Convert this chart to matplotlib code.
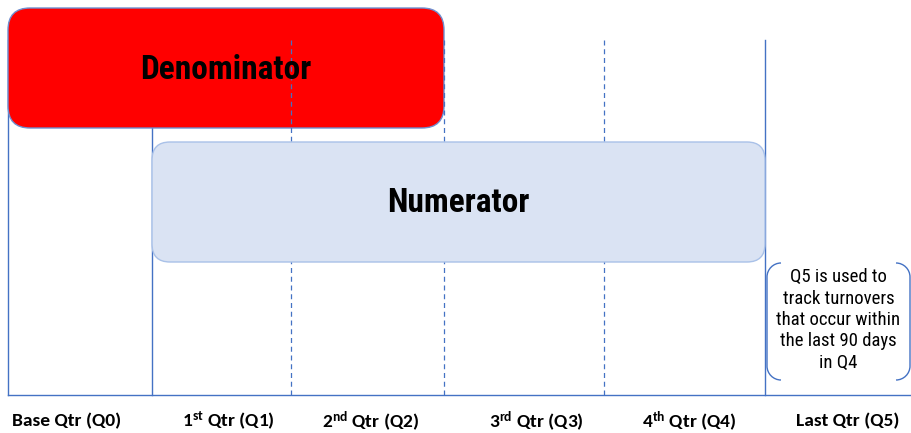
import matplotlib
matplotlib.use("Agg")
import matplotlib.pyplot as plt
from matplotlib.patches import FancyBboxPatch, PathPatch
from matplotlib.path import Path

plt.rcParams['mathtext.fontset'] = 'custom'
plt.rcParams['mathtext.rm'] = 'Carlito:bold'
plt.rcParams['mathtext.it'] = 'Carlito:bold'
plt.rcParams['mathtext.bf'] = 'Carlito:bold'

# ---- data ----
quarter_labels = ["Base Qtr (Q0)", r"1$^{\mathrm{st}}$ Qtr (Q1)", r"2$^{\mathrm{nd}}$ Qtr (Q2)",
                  r"3$^{\mathrm{rd}}$ Qtr (Q3)", r"4$^{\mathrm{th}}$ Qtr (Q4)", "Last Qtr (Q5)"]
label_centers = [67, 228, 371, 536, 689, 848]
solid_lines = [8, 765]
solid_line_q1 = 152
dashed_lines = [291, 444, 604]
denominator_span = (8, 444)
numerator_span = (152, 765)
note_text = "Q5 is used to\ntrack turnovers\nthat occur within\nthe last 90 days\nin Q4"

BLUE = "#4472C4"
NARROW = ["Roboto Condensed", "Archivo Narrow", "Liberation Sans"]

fig = plt.figure(figsize=(9.12, 4.33), dpi=100)
ax = fig.add_axes([0, 0, 1, 1])
ax.set_xlim(0, 912)
ax.set_ylim(433, 0)
ax.axis("off")

# baseline
ax.plot([8, 912], [395, 395], color=BLUE, lw=1.0, zorder=1)
# solid verticals
for x in solid_lines:
    ax.plot([x, x], [40, 395], color=BLUE, lw=1.0, zorder=1)
ax.plot([solid_line_q1] * 2, [128, 395], color=BLUE, lw=1.0, zorder=1)
# dashed verticals (over denominator, under numerator)
for x in dashed_lines:
    ax.plot([x, x], [40, 395], color=BLUE, lw=0.9, ls=(0, (4, 3)), zorder=3)

# Denominator box
x0, x1 = denominator_span
den = FancyBboxPatch((x0, 8), x1 - x0, 120, boxstyle="round,pad=0,rounding_size=22",
                     fc="#FF0000", ec="#6F8FD0", lw=1.0, zorder=2)
ax.add_patch(den)
ax.text((x0 + x1) / 2, 70, "Denominator", ha="center", va="center",
        fontsize=24, fontweight="bold", family=NARROW, color="black", zorder=5)

# Numerator box
x0, x1 = numerator_span
num = FancyBboxPatch((x0, 142), x1 - x0, 120, boxstyle="round,pad=0,rounding_size=18",
                     fc="#DAE3F3", ec="#A9C1E8", lw=1.0, zorder=4)
ax.add_patch(num)
ax.text((x0 + x1) / 2, 203, "Numerator", ha="center", va="center",
        fontsize=24, fontweight="bold", family=NARROW, color="black", zorder=5)

# bracket note
r = 14
top, bot = 263, 380
lx, rx = 767, 910
k = 0.55
left = Path([(lx + r, top), (lx + r - r * k, top), (lx, top + r - r * k), (lx, top + r),
             (lx, bot - r), (lx, bot - r + r * k), (lx + r - r * k, bot), (lx + r, bot)],
            [Path.MOVETO, Path.CURVE4, Path.CURVE4, Path.CURVE4,
             Path.LINETO, Path.CURVE4, Path.CURVE4, Path.CURVE4])
right = Path([(rx - r, top), (rx - r + r * k, top), (rx, top + r - r * k), (rx, top + r),
              (rx, bot - r), (rx, bot - r + r * k), (rx - r + r * k, bot), (rx - r, bot)],
             [Path.MOVETO, Path.CURVE4, Path.CURVE4, Path.CURVE4,
              Path.LINETO, Path.CURVE4, Path.CURVE4, Path.CURVE4])
for p in (left, right):
    ax.add_patch(PathPatch(p, fc="none", ec=BLUE, lw=1.0, zorder=3))
ax.text(838.5, 320, note_text, ha="center", va="center", fontsize=13.5,
        family=NARROW, color="black", linespacing=1.25, zorder=5)

# quarter labels
for lab, cx in zip(quarter_labels, label_centers):
    ax.text(cx, 421, lab, ha="center", va="center", fontsize=14,
            fontweight="bold", family="Carlito", color="black")

fig.savefig("out.png", dpi=100)
